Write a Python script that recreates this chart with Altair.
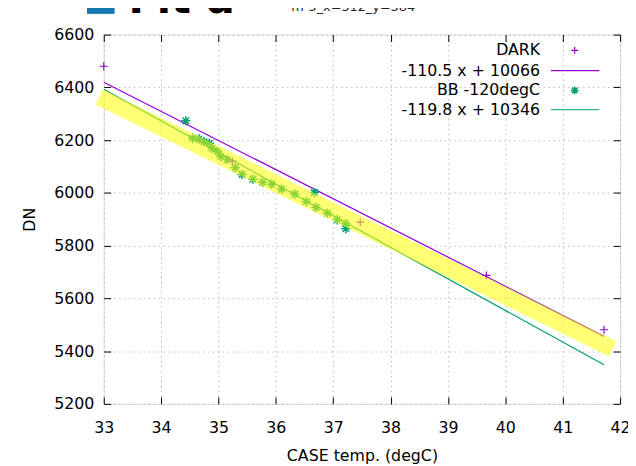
import altair as alt
import pandas as pd

# ---------------- data ----------------
dark_temp = [33.00, 35.24, 37.47, 39.67, 41.72]
dark_dn = [6480, 6120, 5889, 5687, 5481]

bb_temp = [34.43, 34.55, 34.66, 34.75, 34.84, 34.89, 34.98, 35.04, 35.15, 35.29,
           35.41, 35.60, 35.77, 35.93, 36.10, 36.33, 36.53, 36.67, 36.70, 36.90,
           37.07, 37.22, 37.22]
bb_dn = [6273, 6207, 6204, 6194, 6188, 6169, 6157, 6138, 6126, 6095,
         6070, 6052, 6040, 6033, 6014, 5995, 5967, 6001, 5945, 5923,
         5898, 5883, 5864]

dark_fit_temp = [33.0, 41.72]
dark_fit_dn = [6419.5, 5455.9]
bb_fit_temp = [33.0, 41.72]
bb_fit_dn = [6392.6, 5347.9]

band_temp = [32.92, 41.87]
band_dn = [6364, 5409]

x_ticks = [33, 34, 35, 36, 37, 38, 39, 40, 41, 42]
y_ticks = [5200, 5400, 5600, 5800, 6000, 6200, 6400, 6600]

legend_labels = ["DARK", "-110.5 x + 10066", "BB -120degC", "-119.8 x + 10346"]
title_main = "Fit d"
title_sub = "m-5_x=512_y=384"
x_title = "CASE temp. (degC)"
y_title = "DN"

# ---------------- style ----------------
W, H = 523, 374
FONT = "DejaVu Sans"
PURPLE = "#9400d3"
GREEN = "#009e73"
PLUS = "M -1 0 L 1 0 M 0 -1 L 0 1"
STAR = "M -1 0 L 1 0 M 0 -1 L 0 1 M -0.7 -0.7 L 0.7 0.7 M -0.7 0.7 L 0.7 -0.7"

xs = alt.Scale(domain=[33, 42], nice=False, zero=False)
ys = alt.Scale(domain=[5200, 6600], nice=False, zero=False)


def frame(xv, yv):
    return pd.DataFrame({"t": xv, "dn": yv})


grid_style = dict(grid=True, gridColor="#b8b8b8", gridDash=[1.5, 3.5], gridWidth=1)
label_style = dict(labelFont=FONT, labelFontSize=16, labelColor="black",
                   labelFlush=False, labelOverlap=False)
title_style = dict(titleFont=FONT, titleFontSize=16, titleFontWeight="normal",
                   titleColor="black")

axis_x_main = alt.Axis(orient="bottom", values=x_ticks, format="d", ticks=False,
                       domain=False, labelPadding=16, title=x_title,
                       titlePadding=12, **grid_style, **label_style, **title_style)
axis_y_main = alt.Axis(orient="left", values=y_ticks, format="d", ticks=False,
                       domain=False, labelPadding=10, title=y_title,
                       titlePadding=16, **grid_style, **label_style, **title_style)

tick_only = dict(labels=False, domain=False, grid=False, ticks=True, tickSize=7,
                 tickColor="black", tickWidth=1, title=None)
# inward ticks on all four sides (axes pushed to the opposite edge)
ax_x_in_bottom = alt.Axis(orient="top", offset=-H, values=x_ticks, **tick_only)
ax_x_in_top = alt.Axis(orient="bottom", offset=-H, values=x_ticks, **tick_only)
ax_y_in_left = alt.Axis(orient="right", offset=-W, values=y_ticks, **tick_only)
ax_y_in_right = alt.Axis(orient="left", offset=-W, values=y_ticks, **tick_only)

dark_pts = alt.Chart(frame(dark_temp, dark_dn)).mark_point(
    shape=PLUS, filled=False, size=64, strokeWidth=1.2, color=PURPLE, opacity=1
).encode(
    x=alt.X("t:Q", scale=xs, axis=axis_x_main),
    y=alt.Y("dn:Q", scale=ys, axis=axis_y_main),
)

dark_line = alt.Chart(frame(dark_fit_temp, dark_fit_dn)).mark_line(
    color=PURPLE, strokeWidth=1.2
).encode(
    x=alt.X("t:Q", scale=xs, axis=ax_x_in_bottom),
    y=alt.Y("dn:Q", scale=ys, axis=ax_y_in_left),
)

bb_pts = alt.Chart(frame(bb_temp, bb_dn)).mark_point(
    shape=STAR, filled=False, size=90, strokeWidth=1.5, color=GREEN, opacity=1
).encode(
    x=alt.X("t:Q", scale=xs, axis=ax_x_in_top),
    y=alt.Y("dn:Q", scale=ys, axis=ax_y_in_right),
)

bb_line = alt.Chart(frame(bb_fit_temp, bb_fit_dn)).mark_line(
    color=GREEN, strokeWidth=1.2
).encode(
    x=alt.X("t:Q", scale=xs, axis=None),
    y=alt.Y("dn:Q", scale=ys, axis=None),
)

band = alt.Chart(frame(band_temp, band_dn)).mark_line(
    color="#ffff00", opacity=0.55, strokeWidth=17, strokeCap="butt", clip=False
).encode(
    x=alt.X("t:Q", scale=xs, axis=None),
    y=alt.Y("dn:Q", scale=ys, axis=None),
)

# ---------------- key (gnuplot style: text left, sample right) ----------------
key_rows_y = [16, 36.5, 56.5, 76]
key_layers = []
for lab, yy in zip(legend_labels, key_rows_y):
    key_layers.append(
        alt.Chart(pd.DataFrame({"label": [lab]})).mark_text(
            font=FONT, fontSize=16, color="black", align="right", baseline="middle"
        ).encode(text="label:N", x=alt.value(442), y=alt.value(yy))
    )

one = pd.DataFrame({"k": [1]})
key_layers.append(
    alt.Chart(one).mark_point(shape=PLUS, filled=False, size=49, strokeWidth=1.2,
                              color=PURPLE, opacity=1)
    .encode(x=alt.value(477), y=alt.value(key_rows_y[0]))
)
key_layers.append(
    alt.Chart(one).mark_rule(color=PURPLE, strokeWidth=1.2)
    .encode(x=alt.value(453), x2=alt.value(502), y=alt.value(key_rows_y[1]))
)
key_layers.append(
    alt.Chart(one).mark_point(shape=STAR, filled=False, size=64, strokeWidth=1.5,
                              color=GREEN, opacity=1)
    .encode(x=alt.value(477), y=alt.value(key_rows_y[2]))
)
key_layers.append(
    alt.Chart(one).mark_rule(color="#30b890", strokeWidth=1.4)
    .encode(x=alt.value(453), x2=alt.value(502), y=alt.value(key_rows_y[3]))
)

# ---------------- page title (mostly cut off at the top) ----------------
title_square = alt.Chart(one).mark_rect(color="#1878b0").encode(
    x=alt.value(-17), x2=alt.value(11), y=alt.value(-52), y2=alt.value(-21)
)
title_big = alt.Chart(pd.DataFrame({"label": [title_main]})).mark_text(
    font=FONT, fontSize=42, fontWeight="bold", color="black", align="left",
    baseline="alphabetic"
).encode(text="label:N", x=alt.value(25), y=alt.value(-22))
title_small = alt.Chart(pd.DataFrame({"label": [title_sub]})).mark_text(
    font=FONT, fontSize=13, color="#222222", align="left", baseline="alphabetic"
).encode(text="label:N", x=alt.value(190), y=alt.value(-24))

chart = alt.layer(
    dark_pts, dark_line, bb_pts, bb_line, band,
    *key_layers, title_square, title_big, title_small
).resolve_axis(
    x="independent", y="independent"
).properties(
    width=W, height=H,
    autosize=alt.AutoSizeParams(type="none"),
    padding={"left": 97, "top": 24, "right": 8, "bottom": 60},
).configure_view(
    stroke="black", strokeWidth=1
).configure(
    background="white"
)

chart.save("out.html", embed_options={"renderer": "svg", "actions": False})
